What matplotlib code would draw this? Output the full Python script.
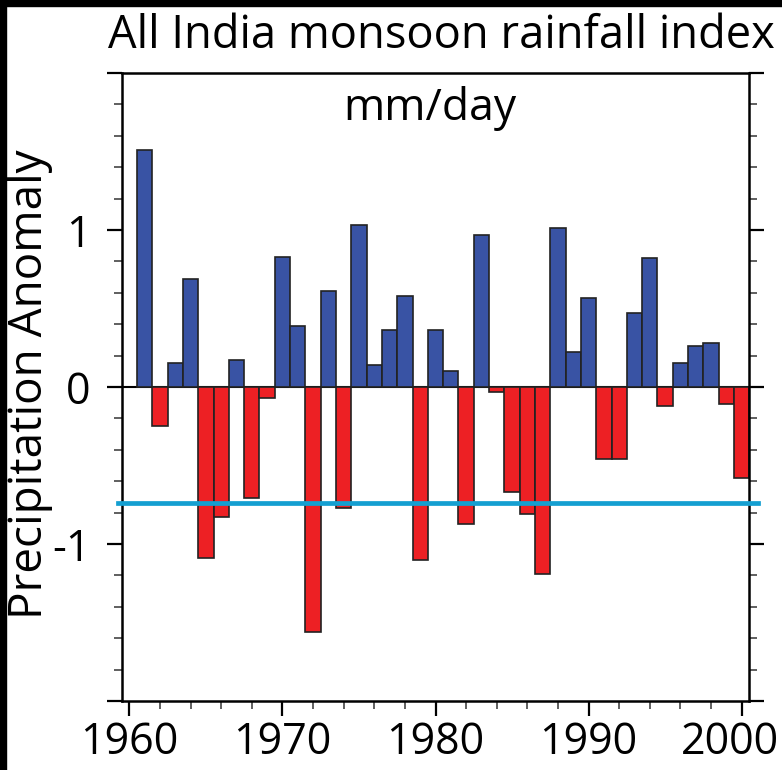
import numpy as np
import matplotlib
matplotlib.use("Agg")
import matplotlib.pyplot as plt
from matplotlib.ticker import MultipleLocator, FixedLocator, FixedFormatter
from matplotlib.patches import Rectangle
from matplotlib.transforms import ScaledTranslation

# All India monsoon rainfall anomaly, mm/day, 1961-2000
years = list(range(1961, 2001))
anomaly = [
    1.51, -0.25, 0.15, 0.69, -1.09, -0.83, 0.17, -0.71, -0.07, 0.83,
    0.39, -1.56, 0.61, -0.77, 1.03, 0.14, 0.36, 0.58, -1.10, 0.36,
    0.10, -0.87, 0.97, -0.03, -0.67, -0.81, -1.19, 1.01, 0.22, 0.57,
    -0.46, -0.46, 0.47, 0.82, -0.12, 0.15, 0.26, 0.28, -0.11, -0.58,
]
threshold = -0.74

x_major = [1960, 1970, 1980, 1990, 2000]
y_major = [-2, -1, 0, 1, 2]
y_labels = ["", "-1", "0", "1", ""]

blue = "#3953a4"
red = "#ed2024"
cyan = "#149fd1"
font = "Open Sans"

plt.rcParams["font.family"] = [font, "DejaVu Sans"]

fig = plt.figure(figsize=(7.82, 7.70), dpi=100)
ax = fig.add_axes([122 / 782, 1 - 701 / 770, 627 / 782, 628 / 770])

colors = [blue if v >= 0 else red for v in anomaly]
ax.bar(years, anomaly, width=1.0, color=colors, edgecolor="#222222", linewidth=1.2, zorder=2)
ax.axhline(threshold, xmin=-0.007, xmax=1.014, color=cyan, linewidth=3.4, clip_on=False, zorder=3)
ax.axhline(0, color="black", linewidth=1.5, zorder=1)

ax.set_xlim(1959.52, 2000.48)
ax.set_ylim(-2, 2)

ax.xaxis.set_major_locator(FixedLocator(x_major))
ax.xaxis.set_minor_locator(MultipleLocator(2))
ax.yaxis.set_major_locator(FixedLocator(y_major))
ax.yaxis.set_major_formatter(FixedFormatter(y_labels))
ax.yaxis.set_minor_locator(MultipleLocator(0.2))

ax.tick_params(axis="both", which="major", direction="out", length=11, width=1.6, labelsize=31)
ax.tick_params(axis="both", which="minor", direction="out", length=6, width=1.2, color="#444444")
ax.tick_params(axis="y", which="both", left=True, right=True, labelright=False)
ax.tick_params(axis="y", which="major", pad=11.5)
ax.tick_params(axis="x", which="both", top=False)
ax.tick_params(axis="x", which="major", pad=3)

# the last year label sits a little left of its tick so it stays inside the image
fig.canvas.draw()
last = ax.get_xticklabels()[-1]
last.set_transform(last.get_transform() + ScaledTranslation(-12 / 100, 0, fig.dpi_scale_trans))

for sp in ax.spines.values():
    sp.set_linewidth(1.8)

fig.text(441 / 782, 1 - 48 / 770, "All India monsoon rainfall index", ha="center", va="baseline",
         fontsize=32.6)
fig.text(430 / 782, 1 - 120 / 770, "mm/day", ha="center", va="baseline", fontsize=32)
fig.text(7 / 782, 386 / 770, "Precipitation Anomaly", rotation=90, ha="left", va="center",
         fontsize=33)

# black frame strips at the top and left edge of the image
fig.patches.append(Rectangle((0, 1 - 6 / 770), 1, 6 / 770, transform=fig.transFigure,
                             color="black", zorder=10))
fig.patches.append(Rectangle((0, 0), 6 / 782, 1, transform=fig.transFigure,
                             color="black", zorder=10))

fig.savefig("out.png", dpi=100, facecolor="white")
